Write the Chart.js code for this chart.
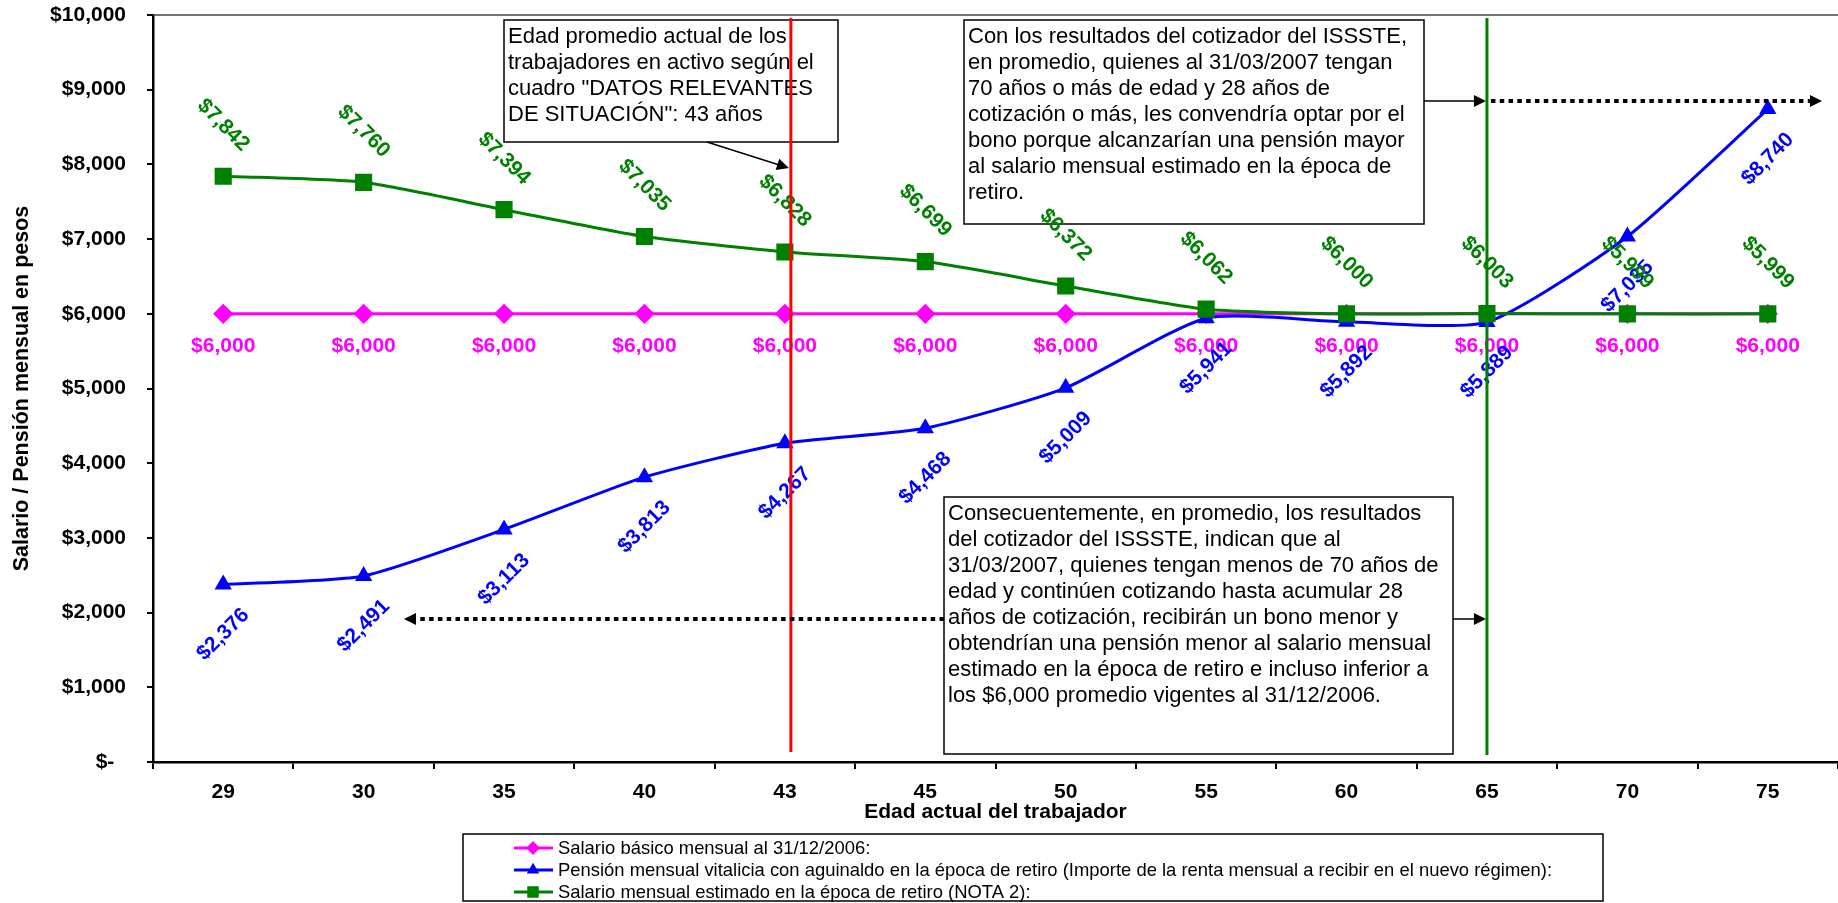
<!DOCTYPE html>
<html>
<head>
<meta charset="utf-8">
<script src="https://cdn.jsdelivr.net/npm/chart.js@4.4.1/dist/chart.umd.min.js"></script>
<style>
  html, body { margin: 0; padding: 0; background: #fff; }
  canvas { display: block; }
</style>
</head>
<body>
<canvas id="pensionChart" width="1838" height="903"></canvas>
<script>
// Edad actual del trabajador (categorias del eje X)
const edades = ['29', '30', '35', '40', '43', '45', '50', '55', '60', '65', '70', '75'];

// Series en pesos mensuales
const salarioBasico = [6000, 6000, 6000, 6000, 6000, 6000, 6000, 6000, 6000, 6000, 6000, 6000];
const pensionVitalicia = [2376, 2491, 3113, 3813, 4267, 4468, 5009, 5941, 5892, 5889, 7035, 8740];
const salarioRetiro = [7842, 7760, 7394, 7035, 6828, 6699, 6372, 6062, 6000, 6003, 5999, 5999];

// Eje Y
const yMin = 0;
const yMax = 10000;
const yPaso = 1000;

// Edades marcadas con lineas verticales
const edadPromedio = '43';
const edadCorte = '65';

const nombresSeries = [
    'Salario básico mensual al 31/12/2006:',
    'Pensión mensual vitalicia con aguinaldo en la época de retiro (Importe de la renta mensual a recibir en el nuevo régimen):',
    'Salario mensual estimado en la época de retiro (NOTA 2):'
];

const textoPromedio = [
    'Edad promedio actual de los',
    'trabajadores en activo según el',
    'cuadro "DATOS RELEVANTES',
    'DE SITUACIÓN": 43 años'
];
const textoMayores = [
    'Con los resultados del cotizador del ISSSTE,',
    'en promedio, quienes al 31/03/2007 tengan',
    '70 años o más de edad y 28 años de',
    'cotización o más, les convendría optar por el',
    'bono porque alcanzarían una pensión mayor',
    'al salario mensual estimado en la época de',
    'retiro.'
];
const textoMenores = [
    'Consecuentemente, en promedio, los resultados',
    'del cotizador del ISSSTE, indican que al',
    '31/03/2007, quienes tengan menos de 70 años de',
    'edad y continúen cotizando hasta acumular 28',
    'años de cotización, recibirán un bono menor y',
    'obtendrían una pensión menor al salario mensual',
    'estimado en la época de retiro e incluso inferior a',
    'los $6,000 promedio vigentes al 31/12/2006.'
];

const FUENTE = '"Liberation Sans", Arial, sans-serif';
const MAGENTA = '#FF00FF';
const AZUL = '#0000FF';
const VERDE = '#008000';

function pesos(v) {
    return '$' + v.toLocaleString('en-US');
}

function etiqueta(ctx, texto, x, y, angulo, color) {
    ctx.save();
    ctx.translate(x, y);
    ctx.rotate(angulo);
    ctx.fillStyle = color;
    ctx.font = 'bold 21px ' + FUENTE;
    ctx.textAlign = 'center';
    ctx.textBaseline = 'middle';
    ctx.fillText(texto, 0, 0);
    ctx.restore();
}

function cuadro(ctx, x, y, w, h, lineas) {
    ctx.save();
    ctx.fillStyle = '#fff';
    ctx.fillRect(x, y, w, h);
    ctx.strokeStyle = '#000';
    ctx.lineWidth = 1.5;
    ctx.strokeRect(x, y, w, h);
    ctx.fillStyle = '#000';
    ctx.font = '22px ' + FUENTE;
    ctx.textBaseline = 'middle';
    lineas.forEach((t, i) => ctx.fillText(t, x + 4, y + 17 + i * 26, w - 8));
    ctx.restore();
}

function punta(ctx, x, y, dir) {
    // dir: 1 hacia la derecha, -1 hacia la izquierda
    ctx.beginPath();
    ctx.moveTo(x, y);
    ctx.lineTo(x - dir * 12, y - 6);
    ctx.lineTo(x - dir * 12, y + 6);
    ctx.closePath();
    ctx.fill();
}

function flecha(ctx, x1, y1, x2, y2) {
    const ang = Math.atan2(y2 - y1, x2 - x1);
    ctx.save();
    ctx.strokeStyle = '#000';
    ctx.fillStyle = '#000';
    ctx.lineWidth = 1.5;
    ctx.beginPath();
    ctx.moveTo(x1, y1);
    ctx.lineTo(x2 - Math.cos(ang) * 10, y2 - Math.sin(ang) * 10);
    ctx.stroke();
    ctx.translate(x2, y2);
    ctx.rotate(ang);
    punta(ctx, 0, 0, 1);
    ctx.restore();
}

function punteada(ctx, x1, x2, y) {
    const dir = x2 > x1 ? 1 : -1;
    ctx.save();
    ctx.strokeStyle = '#000';
    ctx.fillStyle = '#000';
    ctx.lineWidth = 4;
    ctx.setLineDash([4.5, 4.3]);
    ctx.beginPath();
    ctx.moveTo(x1, y);
    ctx.lineTo(x2 - dir * 12, y);
    ctx.stroke();
    ctx.setLineDash([]);
    punta(ctx, x2, y, dir);
    ctx.restore();
}

const anotaciones = {
    id: 'anotaciones',
    afterDatasetsDraw(chart) {
        const ctx = chart.ctx;
        const ca = chart.chartArea;
        const xs = chart.scales.x;

        // borde superior del area de trazado
        ctx.save();
        ctx.strokeStyle = '#444';
        ctx.lineWidth = 1.5;
        ctx.beginPath();
        ctx.moveTo(ca.left, ca.top);
        ctx.lineTo(ca.right, ca.top);
        ctx.stroke();
        ctx.restore();

        cuadro(ctx, 504, 20, 334, 122, textoPromedio);
        cuadro(ctx, 964, 20, 460, 204, textoMayores);
        cuadro(ctx, 944, 497, 509, 257, textoMenores);

        // etiquetas de datos
        const metaM = chart.getDatasetMeta(0);
        const metaA = chart.getDatasetMeta(1);
        const metaV = chart.getDatasetMeta(2);
        metaM.data.forEach((p, i) => etiqueta(ctx, pesos(salarioBasico[i]), p.x, p.y + 32, 0, MAGENTA));
        metaA.data.forEach((p, i) => etiqueta(ctx, pesos(pensionVitalicia[i]), p.x, p.y + 50, -Math.PI / 4, AZUL));
        metaV.data.forEach((p, i) => etiqueta(ctx, pesos(salarioRetiro[i]), p.x, p.y - 51, Math.PI / 4, VERDE));

        // lineas verticales de edad promedio y edad de corte
        const xRoja = xs.getPixelForValue(edades.indexOf(edadPromedio)) + 6;
        const xVerde = xs.getPixelForValue(edades.indexOf(edadCorte));
        ctx.save();
        ctx.lineWidth = 3;
        ctx.strokeStyle = '#FF0000';
        ctx.beginPath();
        ctx.moveTo(xRoja, ca.top + 3);
        ctx.lineTo(xRoja, ca.bottom - 10);
        ctx.stroke();
        ctx.strokeStyle = VERDE;
        ctx.beginPath();
        ctx.moveTo(xVerde, ca.top + 3);
        ctx.lineTo(xVerde, ca.bottom - 7);
        ctx.stroke();
        ctx.restore();

        // flechas
        flecha(ctx, 707, 142, xRoja - 2, 168);
        flecha(ctx, 1424, 101, xVerde - 1, 101);
        punteada(ctx, xVerde + 4, 1822, 101);
        flecha(ctx, 1453, 619, xVerde - 1, 619);
        punteada(ctx, 944, 404, 619);

        // leyenda
        ctx.save();
        const lx = 463, ly = 834, lw = 1140, lh = 67;
        ctx.fillStyle = '#fff';
        ctx.fillRect(lx, ly, lw, lh);
        ctx.strokeStyle = '#000';
        ctx.lineWidth = 1.5;
        ctx.strokeRect(lx, ly, lw, lh);
        ctx.font = '19px "Liberation Sans Narrow", ' + FUENTE;
        const escala = 994 / ctx.measureText(nombresSeries[1]).width;
        chart.data.datasets.forEach((ds, i) => {
            const y = 848 + i * 22;
            ctx.strokeStyle = ds.borderColor;
            ctx.fillStyle = ds.backgroundColor;
            ctx.lineWidth = 3;
            ctx.beginPath();
            ctx.moveTo(514, y);
            ctx.lineTo(553, y);
            ctx.stroke();
            Chart.helpers.drawPoint(ctx, {pointStyle: ds.pointStyle, radius: ds.pointRadius * 0.6, rotation: 0, borderWidth: 1}, 533, y);
            ctx.save();
            ctx.translate(558, y);
            ctx.scale(escala, 1);
            ctx.fillStyle = '#000';
            ctx.textBaseline = 'middle';
            ctx.fillText(ds.label, 0, 1);
            ctx.restore();
        });
        ctx.restore();
    }
};

const ctx = document.getElementById('pensionChart').getContext('2d');
const pensionChart = new Chart(ctx, {
    type: 'line',
    data: {
        labels: edades,
        datasets: [
            {
                label: nombresSeries[0],
                data: salarioBasico,
                borderColor: MAGENTA,
                backgroundColor: MAGENTA,
                pointStyle: 'rectRot',
                pointRadius: 8,
                borderWidth: 3,
                order: 3
            },
            {
                label: nombresSeries[1],
                data: pensionVitalicia,
                borderColor: AZUL,
                backgroundColor: AZUL,
                pointStyle: 'triangle',
                pointRadius: 7,
                borderWidth: 3,
                order: 2
            },
            {
                label: nombresSeries[2],
                data: salarioRetiro,
                borderColor: VERDE,
                backgroundColor: VERDE,
                pointStyle: 'rect',
                pointRadius: 10,
                borderWidth: 3,
                order: 1
            }
        ]
    },
    options: {
        responsive: false,
        animation: false,
        layout: { autoPadding: false, padding: { top: 15, right: 0, bottom: 78, left: 0 } },
        elements: {
            line: { tension: 0.2, fill: false },
            point: { borderWidth: 1 }
        },
        plugins: {
            legend: { display: false },
            tooltip: { enabled: false }
        },
        scales: {
            x: {
                type: 'category',
                offset: true,
                afterFit: s => { s.height = 63; s.paddingLeft = 0; s.paddingRight = 0; },
                grid: { offset: true, drawOnChartArea: false, tickLength: 7, color: '#000', lineWidth: 2 },
                border: { color: '#000', width: 2.5 },
                ticks: {
                    color: '#000',
                    font: { family: FUENTE, size: 21, weight: 'bold' },
                    padding: 11,
                    maxRotation: 0,
                    autoSkip: false
                },
                title: {
                    display: true,
                    text: 'Edad actual del trabajador',
                    color: '#000',
                    font: { family: FUENTE, size: 21, weight: 'bold' },
                    padding: { top: 0, bottom: 0 }
                }
            },
            y: {
                min: yMin,
                max: yMax,
                afterFit: s => { s.width = 153; s.paddingTop = 0; s.paddingBottom = 0; },
                grid: { drawOnChartArea: false, tickLength: 6, color: '#000', lineWidth: 2 },
                border: { color: '#000', width: 2.5 },
                ticks: {
                    stepSize: yPaso,
                    color: '#000',
                    font: { family: FUENTE, size: 21, weight: 'bold' },
                    padding: 21,
                    callback: v => v === 0 ? '$-  ' : pesos(v)
                },
                title: {
                    display: true,
                    text: 'Salario / Pensión mensual en pesos',
                    color: '#000',
                    font: { family: FUENTE, size: 21.5, weight: 'bold' },
                    padding: { top: 9, bottom: 0 }
                }
            }
        }
    },
    plugins: [anotaciones]
});
</script>
</body>
</html>
